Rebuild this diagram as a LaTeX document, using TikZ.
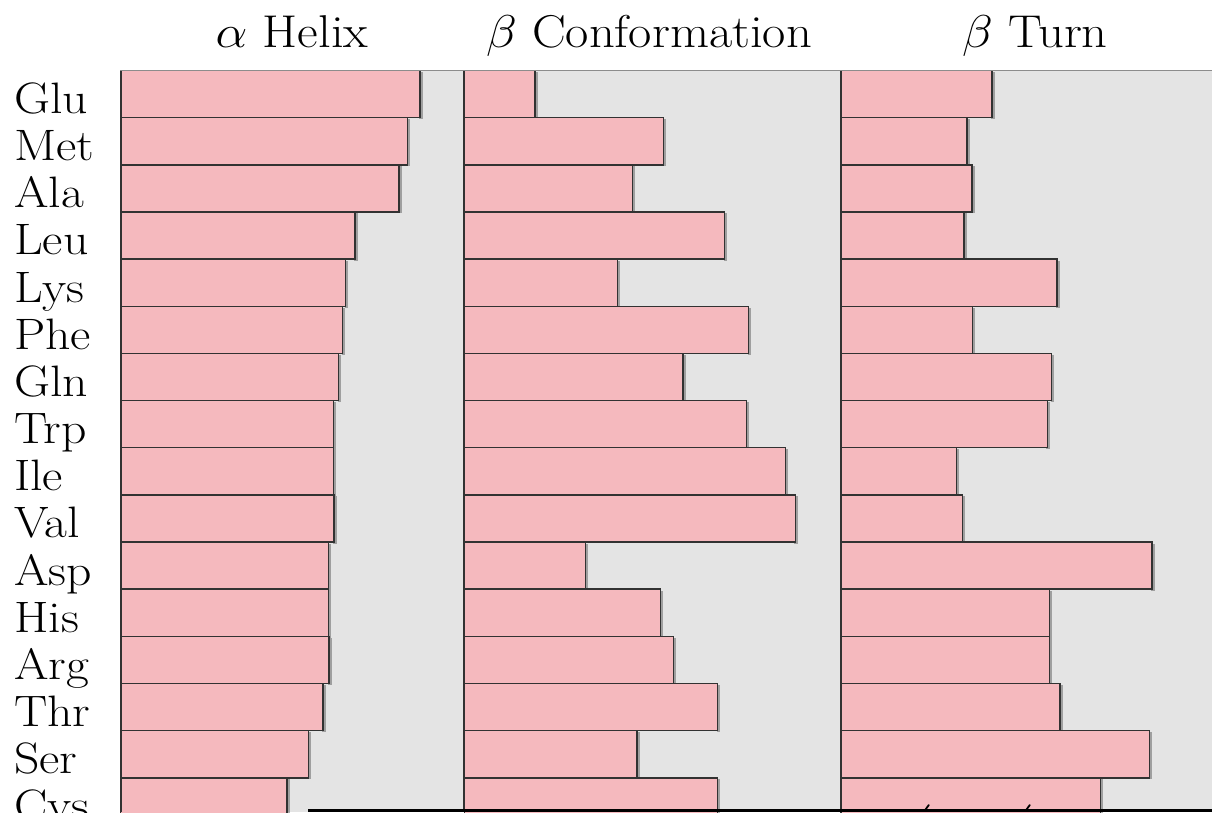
\RequirePackage{fix-cm}
\documentclass[tikz,border=0pt]{standalone}
\definecolor{barpink}{RGB}{245,185,190}
\definecolor{panelgray}{RGB}{228,228,228}
\definecolor{edge}{RGB}{50,50,50}
\definecolor{topline}{RGB}{140,140,140}
\newcommand{\widetext}[2]{\scalebox{#1}[1]{#2}}
\tikzset{
  barbox/.style={fill=barpink, draw=edge, line width=1.5pt},
  barshadow/.style={fill=black, opacity=0.3},
  rowlab/.style={anchor=base west, inner sep=0pt, font=\fontsize{44}{44}\selectfont},
  headlab/.style={anchor=base, inner sep=0pt, font=\fontsize{46}{46}\selectfont},
  colborder/.style={draw=edge, line width=1.7pt},
}
\begin{document}
\begin{tikzpicture}[x=1pt,y=-1pt]
\useasboundingbox (0,0) rectangle (1212,812);
\clip (0,0) rectangle (1212,812);
\fill[white] (0,0) rectangle (1212,812);
\fill[panelgray] (120.7,70.5) rectangle (1212,812);
% column 1: alpha helix
\foreach \r [count=\i from 0] in {420,407.7,399,355,345.7,342.7,338.7,333.3,333.3,334,328.7,328.7,329,323,308.7,287}{
  \pgfmathsetmacro\ya{70.5+47.15*\i}
  \pgfmathsetmacro\yb{\ya+47.15}
  \fill[barshadow] (\r-1,\ya+1.5) rectangle (\r+2.5,\yb+1.5);
  \filldraw[barbox] (120.7,\ya) rectangle (\r,\yb);
}
% column 2: beta conformation
\foreach \r [count=\i from 0] in {535,663.3,632.3,724.7,617.3,748.7,683,746.7,785.3,795.3,585.7,660.7,673.7,717.7,637,717.3}{
  \pgfmathsetmacro\ya{70.5+47.15*\i}
  \pgfmathsetmacro\yb{\ya+47.15}
  \fill[barshadow] (\r-1,\ya+1.5) rectangle (\r+2.5,\yb+1.5);
  \filldraw[barbox] (464.3,\ya) rectangle (\r,\yb);
}
% column 3: beta turn
\foreach \r [count=\i from 0] in {992,967,972,964,1057,972.3,1051.7,1047.3,956.7,962.3,1152,1049.7,1049.7,1060,1149.7,1100.7}{
  \pgfmathsetmacro\ya{70.5+47.15*\i}
  \pgfmathsetmacro\yb{\ya+47.15}
  \fill[barshadow] (\r-1,\ya+1.5) rectangle (\r+2.5,\yb+1.5);
  \filldraw[barbox] (841,\ya) rectangle (\r,\yb);
}
% borders
\draw[colborder] (120.7,70.5) -- (120.7,812);
\draw[colborder] (464.3,70.5) -- (464.3,812);
\draw[colborder] (841,70.5) -- (841,812);
\draw[draw=topline, line width=1.8pt] (120,70.5) -- (1212,70.5);
% row labels
\foreach \n [count=\i from 0] in {Glu,Met,Ala,Leu,Lys,Phe,Gln,Trp,Ile,Val,Asp,His,Arg,Thr,Ser,Cys}{
  \node[rowlab] (lab\i) at (14,70.5+47.15*\i+43) {\widetext{1.13}{\n}};
}
% headers
\node[headlab] (hA) at (292,47) {\widetext{1.1}{$\alpha$ Helix}};
\node[headlab] (hB) at (649,47) {\widetext{1.1}{$\beta$ Conformation}};
\node[headlab] (hC) at (1035,47) {\widetext{1.1}{$\beta$ Turn}};
% cut-off overlay at the bottom
\draw[black, line width=3pt] (308,810.7) -- (1212,810.7);
\draw[black, line width=1.8pt, line cap=round] (925.5,809.5) -- (928.8,805);
\draw[black, line width=1.8pt, line cap=round] (1026.5,809.5) -- (1029.8,805);
\end{tikzpicture}
\end{document}
